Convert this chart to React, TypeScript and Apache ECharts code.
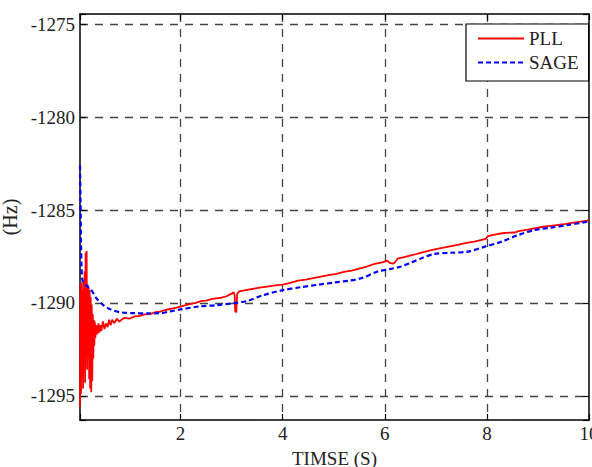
import React, { useEffect, useRef } from "react";
import * as echarts from "echarts";

const pllTime = [
  0.03, 0.04, 0.05, 0.06, 0.07, 0.08, 0.09, 0.10, 0.11, 0.12, 0.13, 0.14, 0.15, 0.16, 0.17, 0.18, 0.19, 0.20,
  0.21, 0.22, 0.23, 0.24, 0.25, 0.26, 0.27, 0.28, 0.29, 0.30, 0.31, 0.32, 0.33, 0.35, 0.37, 0.39, 0.41, 0.43,
  0.45, 0.48, 0.51, 0.54, 0.57, 0.60, 0.63, 0.66, 0.70, 0.75, 0.80, 0.90, 1.00, 1.10, 1.20, 1.30, 1.40, 1.50,
  1.60, 1.70, 1.80, 1.90, 2.00, 2.10, 2.20, 2.30, 2.40, 2.50, 2.60, 2.70, 2.80, 2.90, 3.00, 3.04, 3.06, 3.07,
  3.09, 3.11, 3.15, 3.25, 3.40, 3.55, 3.70, 3.85, 4.00, 4.15, 4.30, 4.45, 4.60, 4.75, 4.90, 5.05, 5.20, 5.35,
  5.50, 5.65, 5.80, 5.95, 6.05, 6.10, 6.18, 6.25, 6.40, 6.55, 6.70, 6.85, 7.00, 7.15, 7.30, 7.45, 7.60, 7.75,
  7.90, 7.98, 8.02, 8.15, 8.30, 8.45, 8.55, 8.62, 8.80, 8.95, 9.10, 9.25, 9.40, 9.55, 9.70, 9.85, 10.00,
];
const pllHz = [
  -1295.6, -1289.0, -1294.9, -1288.9, -1294.0, -1289.3, -1294.6, -1288.8, -1293.4, -1288.3, -1294.3, -1287.3,
  -1292.9, -1287.2, -1293.6, -1289.0, -1292.3, -1289.2, -1294.1, -1289.3, -1294.6, -1289.7, -1294.8, -1290.1,
  -1294.2, -1290.6, -1293.0, -1290.9, -1292.3, -1291.0, -1291.9, -1291.2, -1291.7, -1291.1, -1291.6, -1291.2,
  -1291.5, -1291.0, -1291.4, -1291.1, -1291.3, -1290.9, -1291.2, -1290.9, -1291.1, -1290.85, -1291.0, -1290.8,
  -1290.85, -1290.72, -1290.7, -1290.62, -1290.6, -1290.5, -1290.47, -1290.38, -1290.32, -1290.26, -1290.2,
  -1290.12, -1290.05, -1290.0, -1289.9, -1289.88, -1289.8, -1289.76, -1289.72, -1289.64, -1289.5, -1289.42,
  -1289.6, -1290.45, -1290.5, -1289.5, -1289.38, -1289.33, -1289.25, -1289.18, -1289.12, -1289.06, -1289.02,
  -1288.92, -1288.8, -1288.74, -1288.66, -1288.58, -1288.5, -1288.43, -1288.33, -1288.26, -1288.15, -1288.04,
  -1287.9, -1287.82, -1287.72, -1287.85, -1287.88, -1287.62, -1287.52, -1287.42, -1287.3, -1287.2, -1287.1,
  -1287.02, -1286.94, -1286.86, -1286.77, -1286.7, -1286.6, -1286.55, -1286.4, -1286.32, -1286.25, -1286.22,
  -1286.21, -1286.14, -1286.06, -1285.98, -1285.9, -1285.85, -1285.8, -1285.75, -1285.68, -1285.62, -1285.56,
];

const sageTime = [
  0.03, 0.04, 0.05, 0.06, 0.08, 0.15, 0.25, 0.35, 0.48, 0.61, 0.81, 1.07, 1.35, 1.61, 1.80, 2.00, 2.39, 2.70,
  3.05, 3.30, 3.60, 3.97, 4.36, 4.70, 5.01, 5.30, 5.54, 5.86, 6.10, 6.32, 6.50, 6.72, 6.98, 7.30, 7.63, 7.96,
  8.29, 8.62, 8.94, 9.25, 9.60, 9.99,
];
const sageHz = [
  -1282.6, -1284.5, -1286.8, -1288.0, -1288.8, -1289.05, -1289.3, -1289.74, -1290.1, -1290.33, -1290.5,
  -1290.55, -1290.56, -1290.55, -1290.45, -1290.35, -1290.18, -1290.12, -1290.01, -1289.9, -1289.6, -1289.33,
  -1289.15, -1289.02, -1288.9, -1288.8, -1288.67, -1288.31, -1288.18, -1288.04, -1287.85, -1287.59, -1287.36,
  -1287.3, -1287.24, -1286.97, -1286.7, -1286.34, -1286.07, -1285.95, -1285.8, -1285.62,
];

const seriesNames = ["PLL", "SAGE"];
const xTitle = "TIMSE (S)";
const yTitle = "(Hz)";
const xMin = 0.03;
const xMax = 10;
const yMin = -1296.3;
const yMax = -1274.45;

const FONT = "'Liberation Serif', 'Times New Roman', serif";

export default function App() {
  const ref = useRef<HTMLDivElement>(null);
  useEffect(() => {
    document.body.style.margin = "0";
    const chart = echarts.init(ref.current!, null, { renderer: "svg" });
    const gridLine = { show: true, showMinLine: false, showMaxLine: false, lineStyle: { color: "#444", width: 1.3, type: [8, 7] } };
    const axisLine = { show: true, onZero: false, lineStyle: { color: "#000", width: 1.5 } };
    const tick = { show: true, inside: true, length: 6, lineStyle: { color: "#000", width: 1.2 } };
    const label = { color: "#222", fontFamily: FONT, fontSize: 19 };
    chart.setOption({
      animation: false,
      backgroundColor: "#fff",
      grid: { left: 80, right: 3, top: 14, bottom: 47, containLabel: false, outerBoundsMode: "none" },
      legend: {
        left: 466,
        top: 24,
        orient: "vertical",
        data: seriesNames,
        itemWidth: 46,
        itemHeight: 14,
        itemGap: 5,
        padding: [5, 10, 9, 11],
        borderColor: "#000",
        borderWidth: 1.2,
        backgroundColor: "#fff",
        itemStyle: { opacity: 0 },
        textStyle: { color: "#222", fontFamily: FONT, fontSize: 19 },
      },
      xAxis: [
        {
          type: "value",
          min: xMin,
          max: xMax,
          position: "bottom",
          axisLine,
          axisTick: tick,
          splitLine: gridLine,
          axisLabel: {
            ...label,
            margin: 4,
            hideOverlap: false,
            formatter: (v: number) => (Math.abs(v - Math.round(v)) < 1e-6 && Math.round(v) % 2 === 0 && v > 1 ? String(Math.round(v)) : ""),
          },
          name: xTitle,
          nameLocation: "middle",
          nameGap: 29,
          nameTextStyle: { color: "#222", fontFamily: FONT, fontSize: 19 },
        },
        {
          type: "value",
          min: xMin,
          max: xMax,
          position: "top",
          axisLine,
          axisTick: tick,
          splitLine: { show: false },
          axisLabel: { show: false },
        },
      ],
      yAxis: [
        {
          type: "value",
          min: yMin,
          max: yMax,
          position: "left",
          axisLine,
          axisTick: tick,
          splitLine: gridLine,
          axisLabel: {
            ...label,
            margin: 5,
            formatter: (v: number) => (Math.abs(v / 5 - Math.round(v / 5)) < 1e-6 ? String(Math.round(v)) : ""),
          },
          name: yTitle,
          nameLocation: "middle",
          nameGap: 58,
          nameRotate: 90,
          nameTextStyle: { color: "#222", fontFamily: FONT, fontSize: 20 },
        },
        {
          type: "value",
          min: yMin,
          max: yMax,
          position: "right",
          axisLine,
          axisTick: tick,
          splitLine: { show: false },
          axisLabel: { show: false },
        },
      ],
      series: [
        {
          name: seriesNames[0],
          type: "line",
          xAxisIndex: 0,
          yAxisIndex: 0,
          data: pllTime.map((t, i) => [t, pllHz[i]]),
          showSymbol: false,
          symbol: "none",
          lineStyle: { color: "#ff0000", width: 1.8 },
          itemStyle: { color: "#ff0000" },
          z: 3,
        },
        {
          name: seriesNames[1],
          type: "line",
          xAxisIndex: 0,
          yAxisIndex: 0,
          data: sageTime.map((t, i) => [t, sageHz[i]]),
          showSymbol: false,
          symbol: "none",
          smooth: 0.3,
          lineStyle: { color: "#0000ff", width: 2.2, type: [5, 3] },
          itemStyle: { color: "#0000ff" },
          z: 4,
        },
      ],
    });
    return () => chart.dispose();
  }, []);
  return <div ref={ref} style={{ width: 592, height: 467, position: "fixed", left: 0, top: 0 }} />;
}
